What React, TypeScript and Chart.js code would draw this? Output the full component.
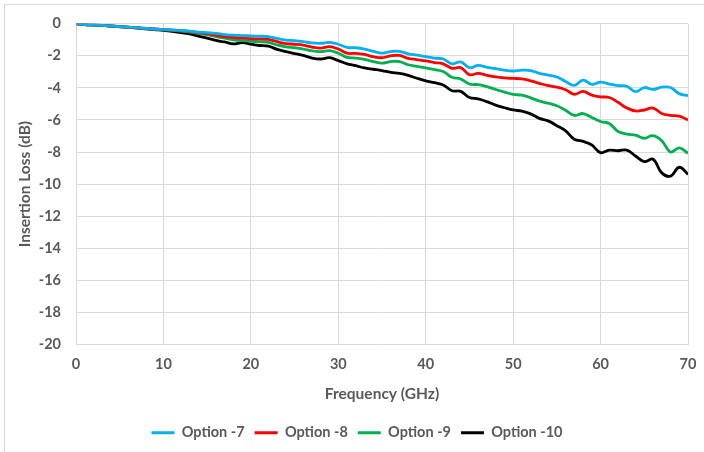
import React, { useEffect, useRef } from "react";
import { Chart, registerables } from "chart.js";

Chart.register(...registerables);

const frequencies = [
  0, 1, 2, 3, 4, 5, 6, 7, 8, 9, 10, 11, 12, 13, 14, 15, 16, 17, 18, 19, 20,
  21, 22, 23, 24, 25, 26, 27, 28, 29, 30, 31, 32, 33, 34, 35, 36, 37, 38, 39, 40,
  41, 42, 43, 44, 45, 46, 47, 48, 49, 50, 51, 52, 53, 54, 55, 56, 57, 58, 59, 60,
  61, 62, 63, 64, 65, 66, 67, 68, 69, 70,
];

const option7 = [
  0, -0.05, -0.08, -0.11, -0.14, -0.18, -0.21, -0.25, -0.29, -0.33, -0.36,
  -0.39, -0.42, -0.46, -0.52, -0.56, -0.6, -0.68, -0.72, -0.74, -0.76,
  -0.78, -0.8, -0.92, -1.02, -1.06, -1.12, -1.2, -1.22, -1.16, -1.28,
  -1.48, -1.5, -1.58, -1.72, -1.84, -1.74, -1.72, -1.88, -1.96, -2.06,
  -2.14, -2.2, -2.5, -2.38, -2.74, -2.6, -2.72, -2.8, -2.9, -2.95,
  -2.9, -2.92, -3.1, -3.2, -3.32, -3.6, -3.84, -3.52, -3.78, -3.64,
  -3.76, -3.86, -3.9, -4.24, -3.98, -4.1, -3.96, -3.98, -4.36, -4.48,
];

const option8 = [
  0, -0.05, -0.08, -0.11, -0.14, -0.18, -0.21, -0.25, -0.29, -0.33, -0.37,
  -0.4, -0.44, -0.49, -0.56, -0.62, -0.72, -0.8, -0.86, -0.9, -0.93,
  -0.95, -0.98, -1.12, -1.24, -1.28, -1.34, -1.46, -1.52, -1.43, -1.58,
  -1.84, -1.85, -1.92, -2.06, -2.12, -2.0, -1.98, -2.16, -2.24, -2.32,
  -2.42, -2.5, -2.78, -2.74, -3.18, -3.1, -3.22, -3.32, -3.38, -3.41,
  -3.44, -3.56, -3.72, -3.86, -3.96, -4.12, -4.4, -4.22, -4.45, -4.56,
  -4.6, -4.9, -5.25, -5.44, -5.38, -5.26, -5.6, -5.72, -5.76, -6.0,
];

const option9 = [
  0, -0.05, -0.08, -0.11, -0.14, -0.18, -0.22, -0.26, -0.3, -0.34, -0.38,
  -0.42, -0.46, -0.52, -0.6, -0.68, -0.8, -0.9, -1.0, -1.06, -1.1,
  -1.12, -1.16, -1.32, -1.44, -1.5, -1.58, -1.7, -1.74, -1.68, -1.84,
  -2.1, -2.14, -2.22, -2.36, -2.46, -2.36, -2.36, -2.56, -2.66, -2.76,
  -2.86, -2.98, -3.34, -3.45, -3.76, -3.8, -3.92, -4.1, -4.26, -4.4,
  -4.46, -4.62, -4.82, -4.96, -5.12, -5.4, -5.72, -5.6, -5.85, -6.1,
  -6.22, -6.72, -6.88, -6.95, -7.14, -6.98, -7.3, -8.0, -7.74, -8.08,
];

const option10 = [
  0, -0.05, -0.08, -0.11, -0.15, -0.19, -0.23, -0.27, -0.32, -0.37, -0.42,
  -0.48, -0.55, -0.64, -0.78, -0.9, -1.04, -1.14, -1.26, -1.18, -1.28,
  -1.36, -1.4, -1.6, -1.74, -1.86, -1.98, -2.14, -2.2, -2.12, -2.3,
  -2.5, -2.62, -2.76, -2.84, -2.92, -3.04, -3.1, -3.22, -3.4, -3.56,
  -3.68, -3.82, -4.18, -4.22, -4.6, -4.68, -4.86, -5.08, -5.24, -5.38,
  -5.45, -5.62, -5.9, -6.06, -6.36, -6.68, -7.2, -7.34, -7.56, -8.04,
  -7.88, -7.92, -7.88, -8.25, -8.6, -8.45, -9.3, -9.5, -8.95, -9.39,
];

const seriesNames = ["Option -7", "Option -8", "Option -9", "Option -10"];
const seriesColors = ["#00B0F0", "#FF0000", "#00B050", "#000000"];
const seriesValues = [option7, option8, option9, option10];

const FONT = "Lato, 'Open Sans', sans-serif";
const TEXT = "#595959";
const GRID = "#d9d9d9";

export default function App() {
  const canvasRef = useRef<HTMLCanvasElement | null>(null);

  useEffect(() => {
    if (!canvasRef.current) return;
    const chart = new Chart(canvasRef.current, {
      type: "line",
      data: {
        datasets: seriesNames.map((name, i) => ({
          label: name,
          data: frequencies.map((f, j) => ({ x: f, y: seriesValues[i][j] })),
          borderColor: seriesColors[i],
          backgroundColor: seriesColors[i],
          borderWidth: 2.8,
          pointRadius: 0,
          tension: 0.4,
          fill: false,
        })),
      },
      options: {
        animation: false,
        responsive: false,
        maintainAspectRatio: false,
        devicePixelRatio: 1,
        layout: { padding: { left: 14, right: 4, top: 22, bottom: 2 } },
        plugins: {
          tooltip: { enabled: false },
          legend: {
            position: "bottom",
            labels: {
              usePointStyle: true,
              pointStyle: "line",
              pointStyleWidth: 23,
              boxWidth: 23,
              padding: 10,
              color: TEXT,
              font: { family: FONT, size: 14.5, weight: "bold" },
            },
          },
        },
        scales: {
          x: {
            type: "linear",
            min: 0,
            max: 70,
            afterFit: (scale: any) => {
              scale.height = 71;
              scale.paddingRight = 16;
              scale.paddingLeft = 0;
            },
            ticks: {
              stepSize: 10,
              padding: 11,
              color: TEXT,
              font: { family: FONT, size: 14.5, weight: "bold" },
            },
            grid: { color: GRID, lineWidth: 1, drawTicks: false },
            border: { color: GRID },
            title: {
              display: true,
              text: "Frequency (GHz)",
              color: TEXT,
              font: { family: FONT, size: 15.5, weight: "bold" },
              padding: { top: 0, bottom: 12 },
            },
          },
          y: {
            min: -20,
            max: 0,
            afterFit: (scale: any) => {
              scale.width = 62;
            },
            ticks: {
              stepSize: 2,
              padding: 15,
              color: TEXT,
              font: { family: FONT, size: 14.5, weight: "bold" },
            },
            grid: { color: GRID, lineWidth: 1, drawTicks: false },
            border: { color: GRID },
            title: {
              display: true,
              text: "Insertion Loss (dB)",
              color: TEXT,
              font: { family: FONT, size: 15.5, weight: "bold" },
              padding: { top: 2, bottom: 0 },
            },
          },
        },
      },
    });
    return () => chart.destroy();
  }, []);

  return (
    <div
      style={{
        position: "fixed",
        left: 0,
        top: 0,
        width: 704,
        height: 452,
        background: "#ffffff",
      }}
    >
      <div
        style={{
          position: "absolute",
          left: 4,
          top: 4,
          right: 0,
          bottom: 0,
          borderTop: "1px solid #d9d9d9",
          borderLeft: "1px solid #d9d9d9",
        }}
      />
      <canvas
        ref={canvasRef}
        width={704}
        height={452}
        style={{ position: "absolute", left: 0, top: 0, width: 704, height: 452 }}
      />
    </div>
  );
}
